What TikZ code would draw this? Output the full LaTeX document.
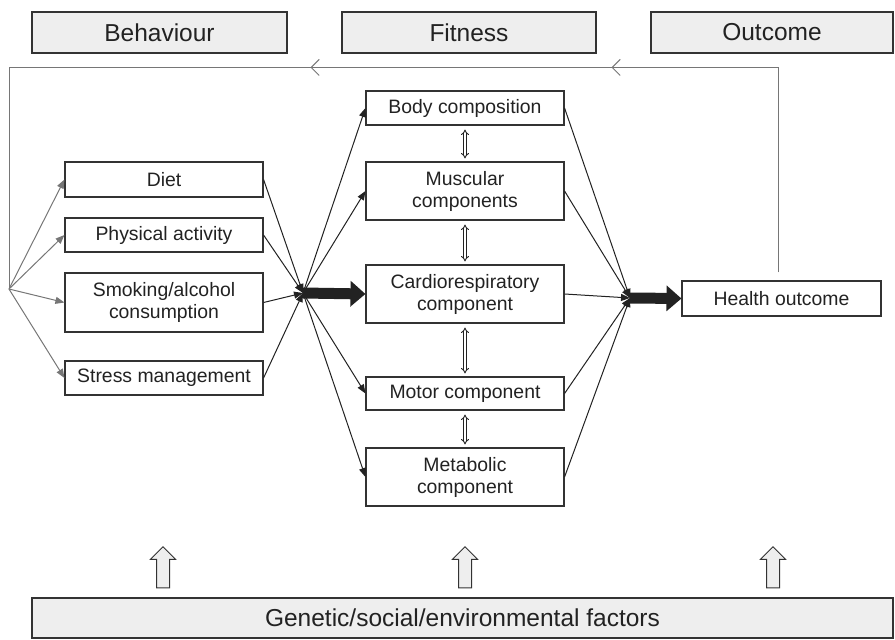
\documentclass[tikz,border=0pt]{standalone}
\usepackage{fontspec}
\setmainfont{Liberation Sans}
\usetikzlibrary{arrows.meta,calc,shapes.arrows,decorations.markings}
\definecolor{Ink}{HTML}{222222}
\definecolor{Frame}{HTML}{333333}
\definecolor{Shade}{HTML}{EEEEEE}
\definecolor{Loop}{HTML}{767676}
\tikzset{
  header/.style={
    draw=Frame, line width=1.1pt, fill=Shade, text=Ink,
    minimum height=41pt, inner sep=0pt,
    font=\fontsize{24.5pt}{28pt}\selectfont
  },
  factor/.style={
    draw=Frame, line width=1.1pt, fill=white, text=Ink,
    minimum width=198pt, inner sep=0pt, align=center,
    font=\fontsize{19.4pt}{22pt}\selectfont
  },
  link/.style={-{Triangle[length=9pt,width=7pt]}, line width=1pt, draw=Ink},
  fanflow/.style={-{Triangle[length=9pt,width=7pt]}, line width=1pt, draw=Loop},
  bigflow/.style={-{Triangle[length=15pt,width=25pt]}, line width=11pt, draw=Ink},
  mutual/.style={{Implies[length=4pt]}-{Implies[length=4pt]}, double=white,
    double distance=1.8pt, line width=0.9pt, draw=Ink,
    shorten >=3pt, shorten <=4pt},
  lift/.style={single arrow, draw=Frame, line width=1pt, fill=Shade,
    shape border rotate=90, minimum height=41pt, inner sep=6pt,
    single arrow head extend=6pt},
  feedback/.style={line width=1pt, draw=Loop, postaction={decorate},
    decoration={markings,
      mark=at position 372pt with {\arrow{Straight Barb[length=8pt,width=16pt]}},
      mark=at position 673pt with {\arrow{Straight Barb[length=8pt,width=16pt]}}}}
}
\begin{document}
\begin{tikzpicture}[x=1pt,y=-1pt]
  \useasboundingbox (0,0) rectangle (895,640);
  % headings
  \node[header,minimum width=255pt] (behav) at (159.5,32.5) {Behaviour};
  \node[header,minimum width=254pt] (fit) at (469,32.5) {Fitness};
  \node[header,minimum width=242pt] (outc) at (772,32.5) {Outcome};
  % behaviour
  \node[factor,minimum height=35pt] (diet) at (164,179.5) {Diet};
  \node[factor,minimum height=34pt] (phys) at (164,235) {Physical activity};
  \node[factor,minimum height=59pt] (smoke) at (164,302.5) {Smoking/alcohol\\consumption};
  \node[factor,minimum height=34pt] (stress) at (164,378) {Stress management};
  % fitness
  \node[factor,minimum height=34pt] (body) at (465,108) {Body composition};
  \node[factor,minimum height=58pt] (musc) at (465,191) {Muscular\\components};
  \node[factor,minimum height=58pt] (cardio) at (465,294) {Cardiorespiratory\\component};
  \node[factor,minimum height=33pt] (motor) at (465,393.5) {Motor component};
  \node[factor,minimum height=58pt] (metab) at (465,477) {Metabolic\\component};
  % outcome
  \node[factor,minimum width=199pt,minimum height=35pt] (health) at (781.5,298.5) {Health outcome};
  % factors
  \node[header,minimum width=861pt,minimum height=40pt] (gen) at (462.5,618) {Genetic/social/environmental factors};
  \node[lift] (up1) at (163,570.5) {};
  \node[lift] (up2) at (465,570.5) {};
  \node[lift] (up3) at (773,570.5) {};
  % junctions
  \coordinate (fan) at (9,289);
  \coordinate (jl) at (303,293);
  \coordinate (jr) at (630,298);
  \draw[feedback] ([xshift=-3pt,yshift=8pt]health.north) -- ++(0,-205) -| (fan);
  \foreach \b in {diet,phys,smoke,stress}
    \draw[fanflow] (fan) -- (\b.west);
  \foreach \b in {diet,phys,smoke,stress}
    \draw[link] (\b.east) -- (jl);
  \foreach \f in {body,musc,motor,metab}
    \draw[link] (jl) -- (\f.west);
  \foreach \f in {body,musc,cardio,motor,metab}
    \draw[link] (\f.east) -- (jr);
  \draw[bigflow] (jl) -- (cardio.west);
  \draw[bigflow] (jr) -- (health.west);
  \draw[mutual] (body) -- (musc);
  \draw[mutual] (musc) -- (cardio);
  \draw[mutual] (cardio) -- (motor);
  \draw[mutual] (motor) -- (metab);
\end{tikzpicture}
\end{document}
